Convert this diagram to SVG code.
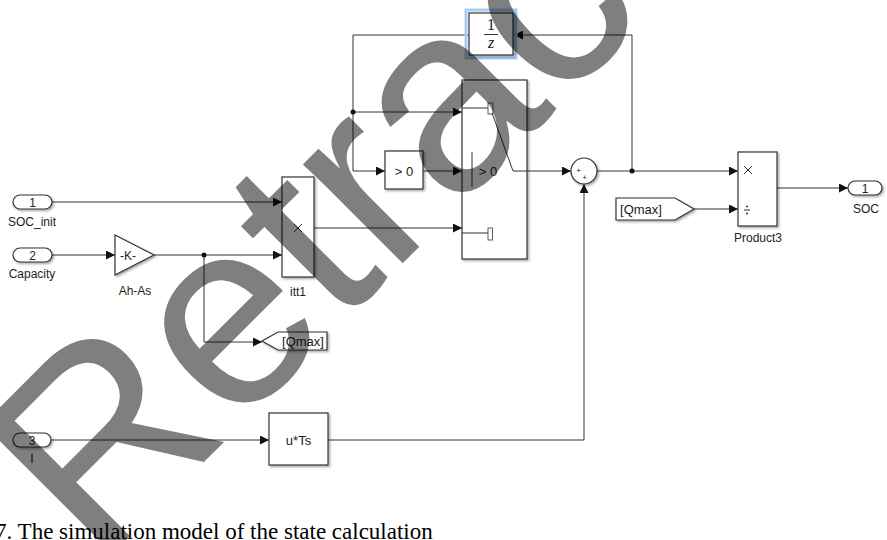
<svg xmlns="http://www.w3.org/2000/svg" width="887" height="540" viewBox="0 0 887 540">
<defs>
<style>
.blk{fill:#fff;stroke:#333;stroke-width:1.2}
.ln{fill:none;stroke:#333;stroke-width:1}
.ar{fill:none;stroke:#333;stroke-width:1;marker-end:url(#arr)}
.t{font-family:"Liberation Sans",Arial,sans-serif;font-size:12px;fill:#222;text-anchor:middle}
.tb{font-family:"Liberation Sans",Arial,sans-serif;font-size:13px;fill:#222;text-anchor:middle}
.dot{fill:#111}
</style>
<filter id="sh" x="-20%" y="-20%" width="150%" height="150%">
<feDropShadow dx="1.5" dy="1.5" stdDeviation="0.8" flood-color="#000" flood-opacity="0.35"/>
</filter>
<marker id="arr" viewBox="0 0 10 10" refX="10" refY="5" markerWidth="9" markerHeight="9" markerUnits="userSpaceOnUse" orient="auto">
<path d="M0,0 L10,5 L0,10 z" fill="#111"/>
</marker>
</defs>
<rect width="887" height="540" fill="#fff"/>

<g id="connectors">
<path class="ar" d="M52,202 H282"/>
<path class="ar" d="M52,255 H115"/>
<path class="ar" d="M154,255 H282"/>
<path class="ar" d="M204,255 V342 H262"/>
<path class="ar" d="M314,228 H462"/>
<path class="ar" d="M469,35 H353 V171 H385"/>
<path class="ar" d="M353,112 H462"/>
<path class="ar" d="M423,171 H462"/>
<path class="ar" d="M527,171 H571"/>
<path class="ar" d="M597,171 H738"/>
<path class="ar" d="M632,171 V35 H514"/>
<path class="ar" d="M694,209 H738"/>
<path class="ar" d="M777,188 H848"/>
<path class="ar" d="M51,440 H269"/>
<path class="ar" d="M328,440 H584 V184"/>
<circle class="dot" cx="204" cy="255" r="2.5"/>
<circle class="dot" cx="353" cy="112" r="2.5"/>
<circle class="dot" cx="632" cy="171" r="2.5"/>
</g>

<g id="in1">
<rect class="blk" x="13" y="195" width="39" height="14" rx="7" filter="url(#sh)"/>
<text class="t" x="32.5" y="206.5">1</text>
<text class="t" x="32" y="226">SOC_init</text>
</g>
<g id="in2">
<rect class="blk" x="13" y="248" width="39" height="14" rx="7" filter="url(#sh)"/>
<text class="t" x="32.5" y="259.5">2</text>
<text class="t" x="32" y="278">Capacity</text>
</g>
<g id="in3">
<rect class="blk" x="13" y="433" width="38" height="14" rx="7" filter="url(#sh)"/>
<text class="t" x="32" y="444.5">3</text>
<text class="t" x="32" y="463">I</text>
</g>
<g id="gain">
<path class="blk" d="M115,235 L154,255 L115,275 Z" filter="url(#sh)"/>
<text class="t" x="128" y="259.5">-K-</text>
<text class="t" x="135" y="295">Ah-As</text>
</g>
<g id="itt1">
<rect class="blk" x="282" y="177" width="32" height="100" filter="url(#sh)"/>
<path class="ln" d="M294,232 L302,224 M294,224 L302,232" stroke-width="0.8"/>
<text class="t" x="298" y="296">itt1</text>
</g>
<g id="gotoQmax">
<path class="blk" d="M262,341 L278,332 H327 V350 H278 Z" filter="url(#sh)"/>
<text class="tb" x="303" y="346">[Qmax]</text>
</g>
<g id="delay">
<rect x="466" y="10" width="50" height="48" fill="none" stroke="#a9cdf2" stroke-width="3"/>
<rect class="blk" x="469" y="13" width="44" height="42" filter="url(#sh)"/>
<text x="491" y="30" font-family="'Liberation Serif',serif" font-size="16" text-anchor="middle" fill="#222">1</text>
<path class="ln" d="M484,34.5 H498"/>
<text x="491" y="48" font-family="'Liberation Serif',serif" font-style="italic" font-size="16" text-anchor="middle" fill="#222">z</text>
</g>
<g id="compare">
<rect class="blk" x="385" y="151" width="38" height="38" filter="url(#sh)"/>
<text class="tb" x="404" y="175.5">&gt; 0</text>
</g>
<g id="switch">
<rect class="blk" x="462" y="80" width="65" height="179" filter="url(#sh)"/>
<path class="ln" d="M462,108 H488"/>
<rect x="488" y="103" width="5" height="11" fill="#fff" stroke="#333" stroke-width="0.8"/>
<path class="ln" d="M492,113 L513,171 H527"/>
<path class="ln" d="M472,152 V187"/>
<text class="tb" x="488" y="175.5">&gt; 0</text>
<path class="ln" d="M462,233 H488"/>
<rect x="488" y="228" width="4.5" height="12" fill="#fff" stroke="#333" stroke-width="0.8"/>
</g>
<g id="sum">
<circle class="blk" cx="584" cy="171" r="13" filter="url(#sh)"/>
<text x="578.5" y="173" font-family="'Liberation Sans',sans-serif" font-size="8" text-anchor="middle" fill="#222">+</text>
<text x="584.5" y="180" font-family="'Liberation Sans',sans-serif" font-size="8" text-anchor="middle" fill="#222">+</text>
</g>
<g id="fromQmax">
<path class="blk" d="M616,198 H675 L694,209 L675,220 H616 Z" filter="url(#sh)"/>
<text class="tb" x="641" y="213.5">[Qmax]</text>
</g>
<g id="product3">
<rect class="blk" x="738" y="152" width="39" height="74" filter="url(#sh)"/>
<path class="ln" d="M744,166 L752,174 M744,174 L752,166" stroke-width="0.9"/>
<path class="ln" d="M744,210 H750" stroke-width="1"/>
<circle cx="747" cy="206.5" r="1" fill="#333"/>
<circle cx="747" cy="213.5" r="1" fill="#333"/>
<text class="t" x="758" y="242">Product3</text>
</g>
<g id="out1">
<rect class="blk" x="848" y="181" width="34" height="14" rx="7" filter="url(#sh)"/>
<text class="t" x="865" y="192.5">1</text>
<text class="t" x="866" y="213">SOC</text>
</g>
<g id="uTs">
<rect class="blk" x="269" y="413" width="59" height="52" filter="url(#sh)"/>
<text class="tb" x="298.5" y="444.5">u*Ts</text>
</g>

<text x="-5" y="539" font-family="'Liberation Serif',serif" font-size="23" fill="#000">7. The simulation model of the state calculation</text>

<text transform="translate(97,569) rotate(-45)" font-family="'Liberation Sans',Arial,sans-serif" font-size="266" fill="#000" fill-opacity="0.5">Retracted</text>
</svg>
